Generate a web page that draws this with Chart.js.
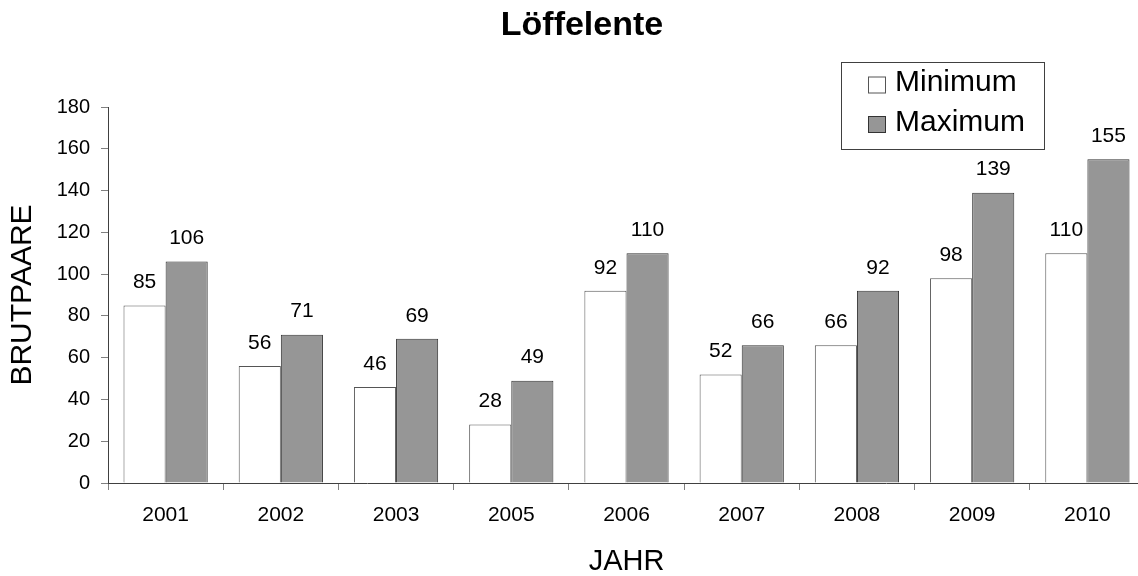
<!DOCTYPE html>
<html>
<head>
<meta charset="utf-8">
<script src="https://cdn.jsdelivr.net/npm/chart.js@4.4.1/dist/chart.umd.min.js"></script>
<style>
  html, body { margin: 0; padding: 0; background: #ffffff; overflow: hidden; width: 1138px; height: 576px; }
  #wrap { position: absolute; left: 0; top: 0; width: 1145px; height: 576px; }
  canvas { display: block; }
</style>
</head>
<body>
<div id="wrap"><canvas id="c" width="1145" height="576" style="width:1145px;height:576px"></canvas></div>
<script>
const chartTitle = 'Löffelente';
const years = ['2001', '2002', '2003', '2005', '2006', '2007', '2008', '2009', '2010'];
const minimum = [85, 56, 46, 28, 92, 52, 66, 98, 110];
const maximum = [106, 71, 69, 49, 110, 66, 92, 139, 155];
const seriesNames = ['Minimum', 'Maximum'];
const yAxisTitle = 'BRUTPAARE';
const xAxisTitle = 'JAHR';

const FONT = '"Liberation Sans", Arial, sans-serif';

const decorPlugin = {
  id: 'decor',
  afterDatasetsDraw(chart) {
    const ctx = chart.ctx;
    ctx.save();
    ctx.font = '21px ' + FONT;
    ctx.fillStyle = '#000';
    ctx.textAlign = 'center';
    ctx.textBaseline = 'middle';
    chart.data.datasets.forEach((ds, di) => {
      const meta = chart.getDatasetMeta(di);
      meta.data.forEach((bar, i) => {
        ctx.fillText(String(ds.data[i]), bar.x, bar.y - 23);
      });
    });
    ctx.restore();
  },
  afterDraw(chart) {
    const ctx = chart.ctx;
    ctx.save();
    ctx.font = 'bold 34px ' + FONT;
    ctx.fillStyle = '#000';
    ctx.textAlign = 'center';
    ctx.textBaseline = 'middle';
    ctx.fillText(chartTitle, 582, 26);
    const bx = 841.5, by = 62.5, bw = 203, bh = 87;
    ctx.fillStyle = '#fff';
    ctx.fillRect(bx, by, bw, bh);
    ctx.strokeStyle = '#404040';
    ctx.lineWidth = 1;
    ctx.strokeRect(bx, by, bw, bh);
    const rows = [85, 124.5];
    chart.data.datasets.forEach((ds, di) => {
      const cy = rows[di];
      ctx.fillStyle = ds.backgroundColor;
      ctx.fillRect(868.5, cy - 8, 17, 16);
      ctx.strokeStyle = ds.borderColor;
      ctx.strokeRect(868.5, cy - 8, 17, 16);
      ctx.fillStyle = '#000';
      ctx.font = '30px ' + FONT;
      ctx.textAlign = 'left';
      ctx.textBaseline = 'middle';
      ctx.fillText(ds.label, 895, cy - 2);
    });
    ctx.restore();
  }
};

new Chart(document.getElementById('c'), {
  type: 'bar',
  data: {
    labels: years,
    datasets: [
      {
        label: seriesNames[0],
        data: minimum,
        backgroundColor: '#ffffff',
        borderColor: '#555555',
        borderWidth: 1
      },
      {
        label: seriesNames[1],
        data: maximum,
        backgroundColor: '#969696',
        borderColor: '#333333',
        borderWidth: 1
      }
    ]
  },
  options: {
    responsive: false,
    animation: false,
    devicePixelRatio: 1,
    layout: { padding: { top: 107, left: 0, right: 0, bottom: 0 } },
    datasets: {
      bar: { categoryPercentage: 0.731, barPercentage: 1.0 }
    },
    plugins: {
      legend: { display: false },
      title: { display: false },
      tooltip: { enabled: false }
    },
    scales: {
      x: {
        offset: true,
        grid: {
          offset: true,
          drawOnChartArea: false,
          drawTicks: true,
          tickLength: 7,
          color: '#808080'
        },
        border: { display: true, color: '#404040', width: 1 },
        ticks: {
          color: '#000',
          font: { family: FONT, size: 21 },
          padding: 13,
          maxRotation: 0,
          autoSkip: false
        },
        title: {
          display: true,
          text: xAxisTitle,
          color: '#000',
          font: { family: FONT, size: 29, lineHeight: 1 },
          padding: { top: 0, bottom: 0 }
        },
        afterFit(scale) { scale.height = 93; }
      },
      y: {
        min: 0,
        max: 180,
        grid: {
          drawOnChartArea: false,
          drawTicks: true,
          tickLength: 7,
          color: '#808080'
        },
        border: { display: true, color: '#404040', width: 1 },
        ticks: {
          stepSize: 20,
          color: '#000',
          font: { family: FONT, size: 20 },
          padding: 11
        },
        title: {
          display: true,
          text: yAxisTitle,
          color: '#000',
          font: { family: FONT, size: 30, lineHeight: 1 },
          padding: { top: 8, bottom: 0 }
        },
        afterFit(scale) { scale.width = 108; }
      }
    }
  },
  plugins: [decorPlugin]
});
</script>
</body>
</html>
